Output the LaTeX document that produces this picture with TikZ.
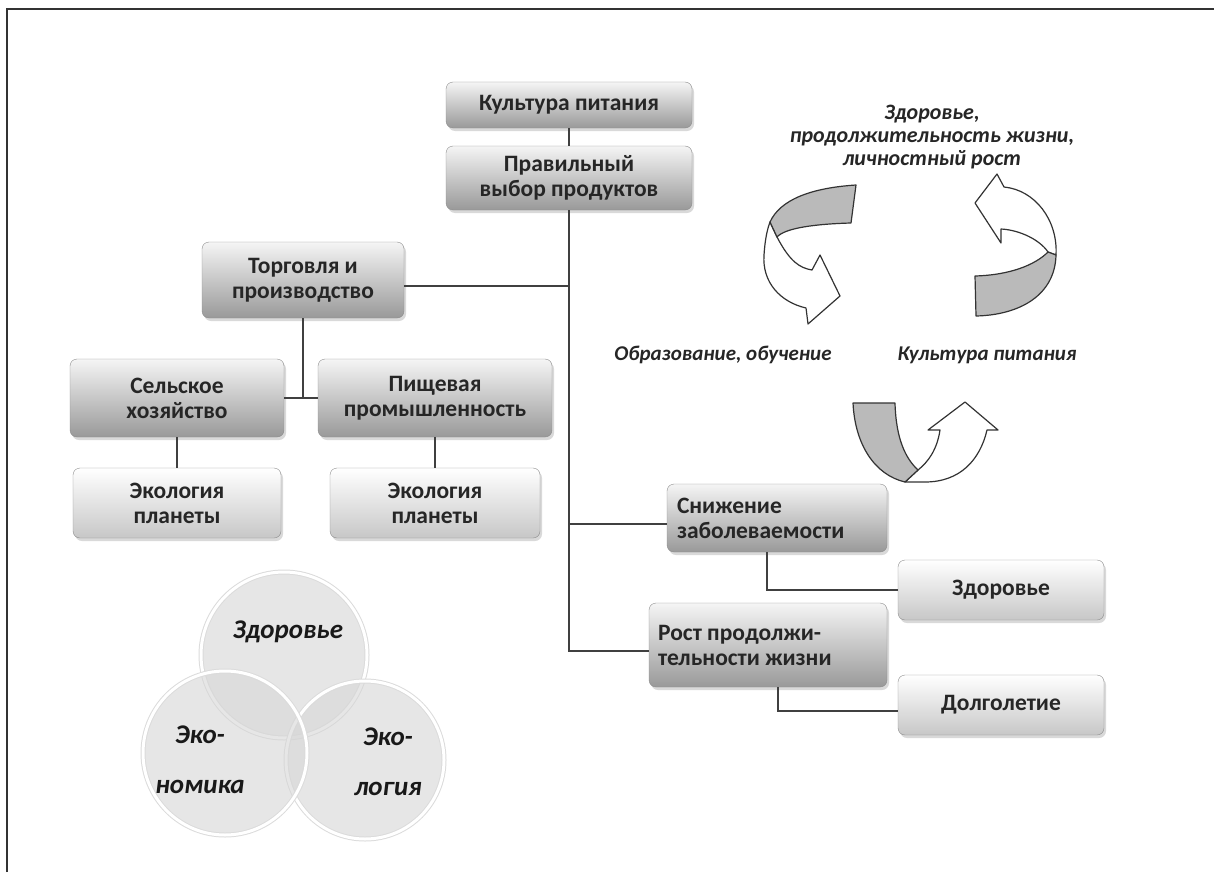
\documentclass[tikz,border=0pt]{standalone}
\usepackage{fontspec}
\setmainfont{Carlito}
\usetikzlibrary{shadows}

\begin{document}
\begin{tikzpicture}[x=1pt, y=-1pt,
    box/.style={draw=black!45, rounded corners=7pt, top color=black!4, bottom color=black!40,
      drop shadow={shadow xshift=2pt, shadow yshift=-3pt, opacity=.3},
      font=\fontsize{23.5}{25}\selectfont\bfseries, text=black!85, align=center, inner sep=3pt},
    lbox/.style={box, top color=white, bottom color=black!22},
    link/.style={draw=black!75, line width=1.6pt},
    rib/.style={draw=black!80, line width=1.2pt, line join=round},
    itxt/.style={font=\fontsize{21}{23}\selectfont\bfseries\itshape, text=black!85, align=center},
    vtxt/.style={font=\fontsize{27}{50}\selectfont\bfseries\itshape, text=black!90, align=center},
    venn/.style={fill=black!16, fill opacity=.6}]
  \useasboundingbox (0,0) rectangle (1214,872);
  \draw[line width=2pt, black!80] (7,872) -- (7,9) -- (1214,9);

  % tree
  \node[box, minimum width=246pt, minimum height=46pt] (kult) at (569,105) {Культура питания};
  \node[box, minimum width=246pt, minimum height=64pt] (prav) at (569,178) {Правильный\\выбор продуктов};
  \node[box, minimum width=202pt, minimum height=76pt] (torg) at (303,280) {Торговля и\\производство};
  \node[box, minimum width=214pt, minimum height=78pt] (selsk) at (177,398) {Сельское\\хозяйство};
  \node[box, minimum width=234pt, minimum height=78pt] (pishch) at (435,398) {Пищевая\\промышленность};
  \node[lbox, minimum width=208pt, minimum height=70pt] (ekol1) at (177,503) {Экология\\планеты};
  \node[lbox, minimum width=210pt, minimum height=70pt] (ekol2) at (435,503) {Экология\\планеты};
  \node[box, minimum width=220pt, minimum height=68pt, text width=200pt, align=flush left] (snizh) at (777,518) {Снижение\\заболеваемости};
  \node[lbox, minimum width=206pt, minimum height=60pt] (zdor) at (1001,590) {Здоровье};
  \node[box, minimum width=238pt, minimum height=84pt, text width=220pt, align=flush left] (rost) at (768,645) {Рост продолжи-\\тельности жизни};
  \node[lbox, minimum width=206pt, minimum height=60pt] (dolg) at (1001,705) {Долголетие};

  \draw[link] (kult) -- (prav);
  \draw[link] (prav.south) |- ([yshift=-6pt]rost.west);
  \draw[link] ([yshift=-6pt]snizh.west) -| (prav.south);
  \draw[link] ([yshift=-6pt]torg.east) -| (prav.south);
  \draw[link] (torg.south) -- (torg.south |- selsk.east);
  \draw[link] (selsk.east) -- (pishch.west);
  \draw[link] (selsk) -- (ekol1);
  \draw[link] (pishch) -- (ekol2);
  \draw[link] ([xshift=-10pt]snizh.south) |- (zdor.west);
  \draw[link] ([xshift=10pt]rost.south) |- ([yshift=-6pt]dolg.west);

  % cycle
  \node[itxt, font=\fontsize{22}{23}\selectfont\bfseries\itshape] (goal) at (932,137) {Здоровье,\\продолжительность жизни,\\личностный рост};
  \node[itxt] (obr) at (723,355) {Образование, обучение};
  \node[itxt] (kpit) at (987,355) {Культура питания};

  \filldraw[rib, fill=white] (777,237) .. controls (790,262) and (800,268) .. (812,270) -- (820,255)
    -- (840,296) -- (808,324) -- (806,308) .. controls (780,302) and (762,282) .. (764,255)
    .. controls (765,240) and (767,230) .. (770,222) -- cycle;
  \filldraw[rib, fill=black!27] (770,222) .. controls (780,200) and (810,188) .. (856,185) -- (851,223)
    .. controls (815,224) and (785,228) .. (777,237) -- cycle;

  \filldraw[rib, fill=white] (975,203) -- (997,174) -- (1004,187) .. controls (1035,190) and (1058,220) .. (1056,255)
    -- (1048,252) .. controls (1040,240) and (1020,230) .. (1001,229) -- (1001,243) -- cycle;
  \filldraw[rib, fill=black!27] (1056,255) .. controls (1055,295) and (1020,315) .. (976,316) -- (975,276)
    .. controls (1010,275) and (1035,265) .. (1048,252) -- cycle;

  \filldraw[rib, fill=white] (905,482) -- (925,482) .. controls (960,482) and (980,460) .. (987,430) -- (998,430)
    -- (965,402) -- (928,430) -- (940,430) .. controls (937,450) and (928,462) .. (918,470) -- cycle;
  \filldraw[rib, fill=black!27] (853,403) -- (895,403) .. controls (896,438) and (905,458) .. (918,470)
    -- (905,482) .. controls (875,475) and (855,445) .. (853,403) -- cycle;

  % venn
  \foreach \cx/\cy/\r in {284/655/83, 365/760/79, 225/753/82} {
    \fill[venn] (\cx,\cy) circle (\r);
    \draw[black!14, line width=5pt] (\cx,\cy) circle (\r);
    \draw[white, line width=3pt] (\cx,\cy) circle (\r);
  }
  \node[vtxt] (vzd) at (288,632) {Здоровье};
  \node[vtxt] (veco) at (200,760) {Эко-\\номика};
  \node[vtxt] (vlog) at (388,762) {Эко-\\логия};
\end{tikzpicture}
\end{document}
